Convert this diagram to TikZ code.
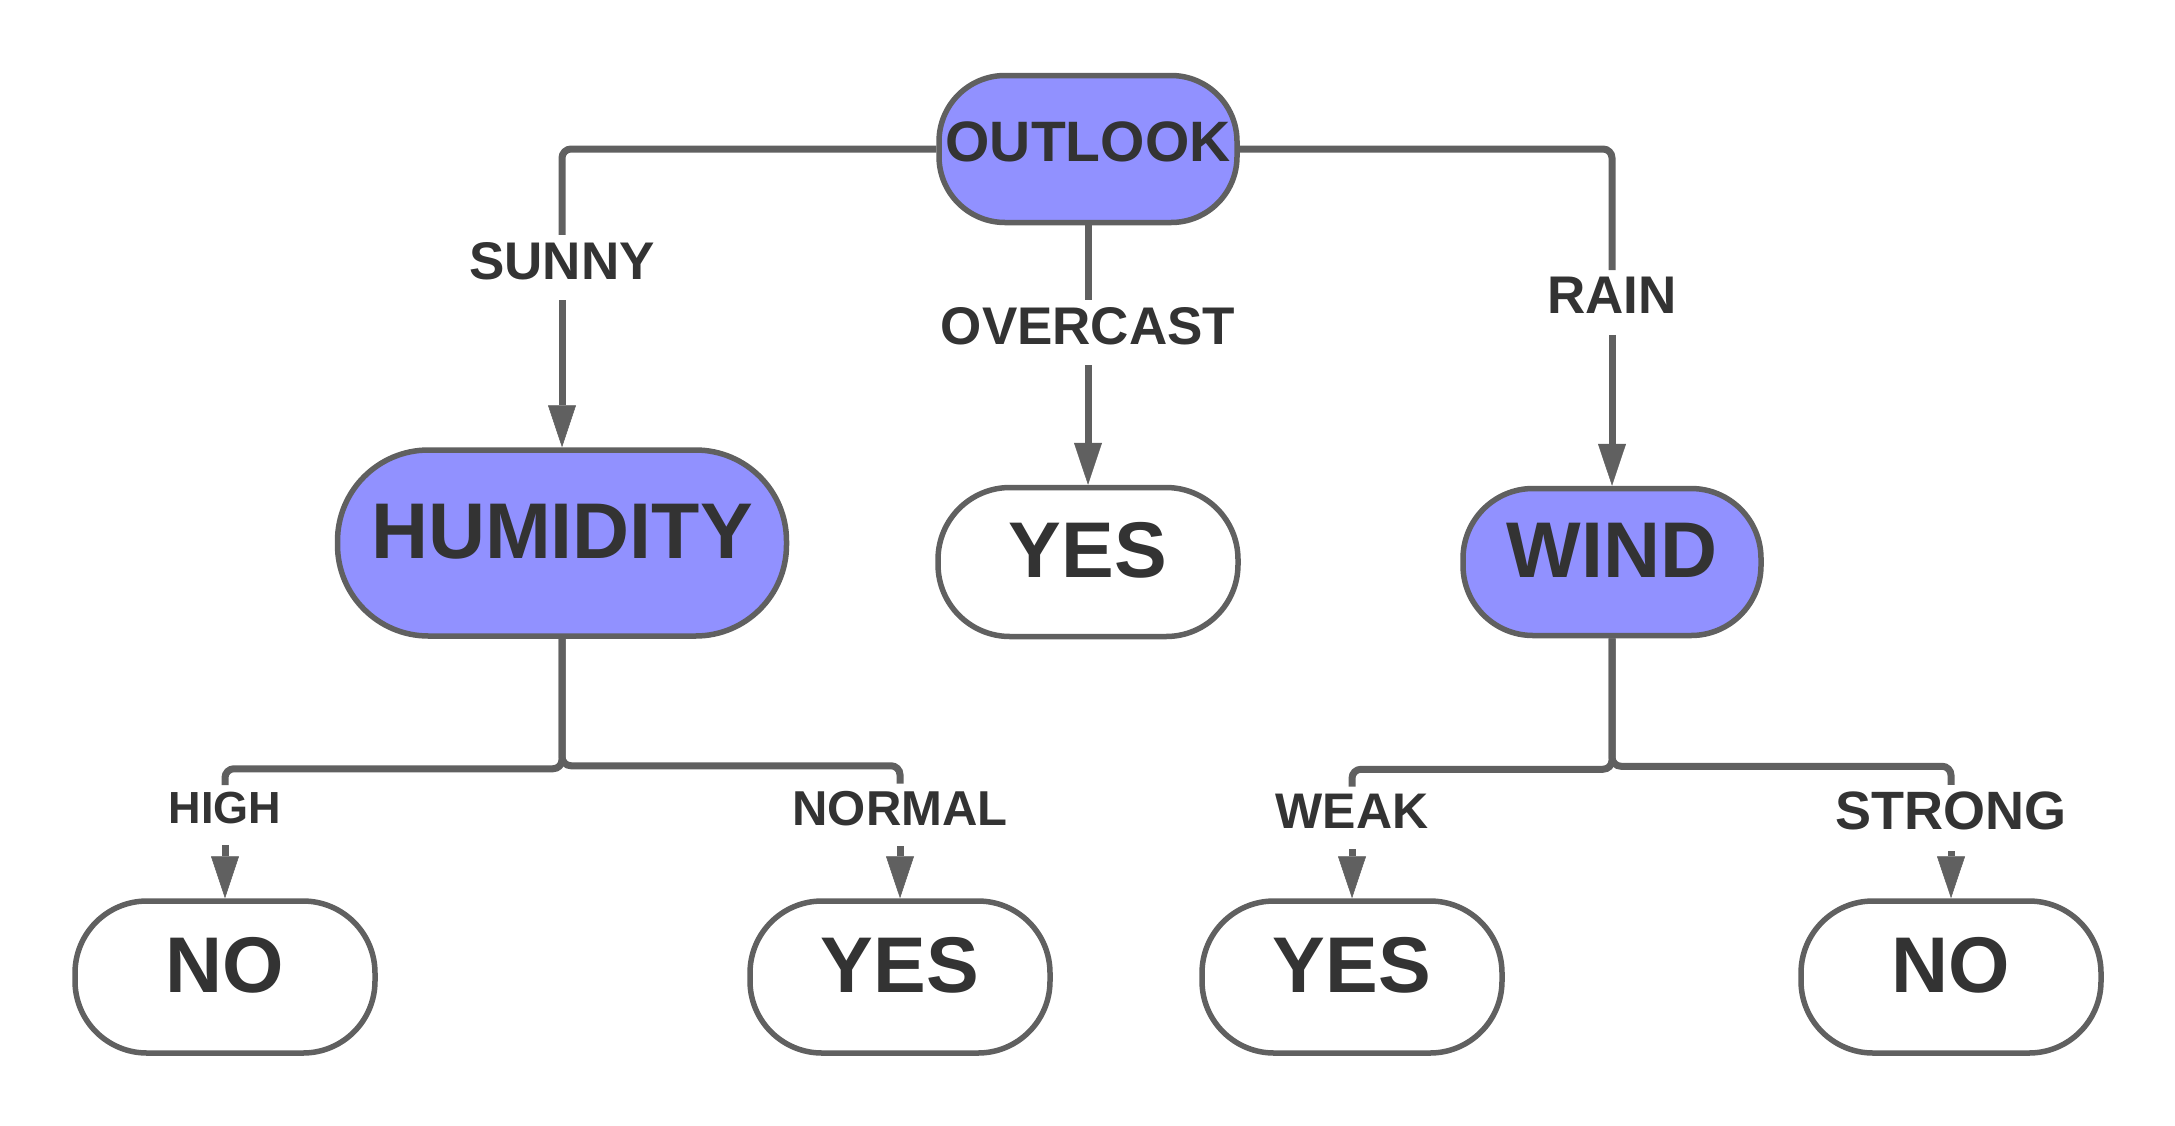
\documentclass[tikz,border=0pt]{standalone}
\usepackage{fontspec}
\setmainfont{Liberation Sans}
\usepackage{tikz}
\usetikzlibrary{arrows.meta}

\definecolor{linegray}{HTML}{606060}
\definecolor{attrblue}{HTML}{9191FF}
\definecolor{textdark}{HTML}{333333}

\tikzset{
    attr/.style={rectangle, draw=linegray, line width=5.5pt, fill=attrblue, text=textdark, inner sep=0pt, text depth=24pt, font=\fontsize{79}{90}\selectfont\bfseries},
    leaf/.style={attr, fill=white, minimum width=300pt, minimum height=152pt, rounded corners=72pt},
    cond/.style={fill=white, text=textdark, inner xsep=3pt, inner ysep=7pt, text depth=14pt, font=\fontsize{#1}{60}\selectfont\bfseries},
    cond/.default=53,
    link/.style={draw=linegray, line width=7pt, rounded corners=9pt},
    arrowlink/.style={link, -{Triangle[length=42pt, width=28pt, line width=0.5pt]}}
}

\begin{document}
\begin{tikzpicture}[x=1pt, y=-1pt]
    \useasboundingbox (0,0) rectangle (2175,1125);

    % attribute nodes
    \node [attr, minimum width=298pt, minimum height=147pt, rounded corners=66pt, text depth=14pt, font=\fontsize{57}{66}\selectfont\bfseries] (outlook) at (1088,149) {OUTLOOK};
    \node [attr, minimum width=449pt, minimum height=186pt, rounded corners=91pt] (humidity) at (562,543) {HUMIDITY};
    \node [attr, minimum width=298pt, minimum height=147pt, rounded corners=70pt] (wind) at (1612,562) {WIND};

    % leaves
    \node [leaf, minimum height=149pt] (yesover) at (1088,562) {YES};
    \node [leaf] (nohigh) at (225,977) {NO};
    \node [leaf] (yesnormal) at (900,977) {YES};
    \node [leaf] (yesweak) at (1352,977) {YES};
    \node [leaf] (nostrong) at (1951,977) {NO};

    % branch labels
    \node [cond] (sunny) at (562,267.5) {SUNNY};
    \node [cond] (overcast) at (1088,332.5) {OVERCAST};
    \node [cond] (rain) at (1612,302.5) {RAIN};
    \node [cond=45] (high) at (225,815) {HIGH};
    \node [cond=49] (normal) at (900,815) {NORMAL};
    \node [cond=50] (weak) at (1352,818) {WEAK};
    \node [cond=54] (strong) at (1951,818) {STRONG};

    \draw [link] (outlook.west) -| (sunny);
    \draw [arrowlink] (sunny) -- (humidity);
    \draw [link] (outlook) -- (overcast);
    \draw [arrowlink] (overcast) -- (yesover);
    \draw [link] (outlook.east) -| (rain);
    \draw [arrowlink] (rain) -- (wind);

    \draw [link] (humidity.south) -- ++(0,130) -| (high);
    \draw [link] (humidity.south) -- ++(0,127) -| (normal);
    \draw [arrowlink] (high) -- (nohigh);
    \draw [arrowlink] (normal) -- (yesnormal);

    \draw [link] (wind.south) -- ++(0,131) -| (weak);
    \draw [link] (wind.south) -- ++(0,128) -| (strong);
    \draw [arrowlink] (weak) -- (yesweak);
    \draw [arrowlink] (strong) -- (nostrong);
\end{tikzpicture}
\end{document}
